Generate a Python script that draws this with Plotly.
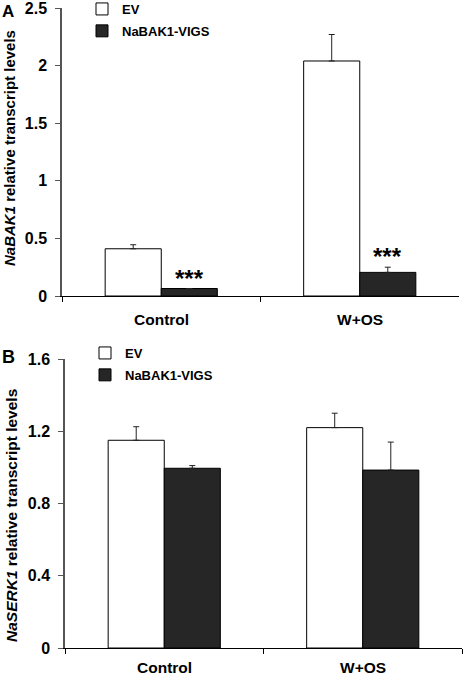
import plotly.graph_objects as go

categories = ["Control", "W+OS"]
series_names = ["EV", "NaBAK1-VIGS"]

# Panel A: NaBAK1 relative transcript levels
a_ev = [0.41, 2.04]
a_ev_err = [0.035, 0.23]
a_vigs = [0.065, 0.205]
a_vigs_err = [0.0, 0.045]
a_ticks = [0, 0.5, 1, 1.5, 2, 2.5]
a_ticktext = ["0", "0.5", "1", "1.5", "2", "2.5"]
a_sig = ["***", "***"]

# Panel B: NaSERK1 relative transcript levels
b_ev = [1.15, 1.22]
b_ev_err = [0.075, 0.08]
b_vigs = [0.995, 0.985]
b_vigs_err = [0.015, 0.155]
b_ticks = [0, 0.4, 0.8, 1.2, 1.6]
b_ticktext = ["0", "0.4", "0.8", "1.2", "1.6"]

W, H = 463, 678
FONT = "Arial, Liberation Sans, sans-serif"
fill_colors = ["#ffffff", "#262626"]

fig = go.Figure()

def add_pair(ev, ev_err, vg, vg_err, xa, ya, legend):
    for i, (vals, errs) in enumerate([(ev, ev_err), (vg, vg_err)]):
        fig.add_trace(go.Bar(
            x=categories, y=vals, name=series_names[i],
            xaxis=xa, yaxis=ya, legend=legend, legendgroup=legend + str(i),
            marker=dict(color=fill_colors[i], line=dict(color="#000000", width=1)),
            error_y=dict(type="data", array=errs, arrayminus=[0] * len(errs),
                         symmetric=False, color="#222222", thickness=1, width=3),
        ))

add_pair(a_ev, a_ev_err, a_vigs, a_vigs_err, "x", "y", "legend")
add_pair(b_ev, b_ev_err, b_vigs, b_vigs_err, "x2", "y2", "legend2")

def xaxis(domain, anchor):
    return dict(domain=domain, anchor=anchor, type="category",
                tickson="boundaries", ticks="outside", ticklen=5, tickcolor="#000",
                showticklabels=False,
                showline=True, linecolor="#000", linewidth=1,
                showgrid=False, zeroline=False, fixedrange=True, automargin=False)

def yaxis(domain, anchor, rng, tv, tt):
    return dict(domain=domain, anchor=anchor, range=rng, tickvals=tv, ticktext=tt,
                ticks="outside", ticklen=5, tickcolor="#555", ticklabelstandoff=5,
                ticklabeloverflow="allow",
                showline=True, linecolor="#555", linewidth=1.5,
                tickfont=dict(family=FONT, size=16, color="#000", weight="bold"),
                showgrid=False, zeroline=False, automargin=False)

legend_font = dict(family=FONT, size=13, color="#000", weight="bold")

fig.update_layout(
    width=W, height=H, margin=dict(l=0, r=0, t=0, b=0, autoexpand=False),
    paper_bgcolor="#ffffff", plot_bgcolor="#ffffff",
    barmode="group", bargap=0.435, bargroupgap=0,
    xaxis=xaxis([62 / W, 459 / W], "y"),
    yaxis=yaxis([1 - 296 / H, 1 - 8 / H], "x", [0, 2.5], a_ticks, a_ticktext),
    xaxis2=xaxis([65 / W, 462 / W], "y2"),
    yaxis2=yaxis([1 - 648 / H, 1 - 359 / H], "x2", [0, 1.6], b_ticks, b_ticktext),
    legend=dict(x=82 / W, y=1 + 6 / H, xanchor="left", yanchor="top",
                font=legend_font, bgcolor="rgba(0,0,0,0)",
                traceorder="grouped", tracegroupgap=2, borderwidth=0),
    legend2=dict(x=85 / W, y=1 - 338 / H, xanchor="left", yanchor="top",
                 font=legend_font, bgcolor="rgba(0,0,0,0)",
                 traceorder="grouped", tracegroupgap=2, borderwidth=0),
    showlegend=True,
)

ann = []
cat_font = dict(family=FONT, size=15.5, color="#000", weight="bold")
# category labels below each panel's x axis
for (xr, yr), ys in [(("x", "y"), -13), (("x2", "y2"), -9)]:
    for c in categories:
        ann.append(dict(x=c, y=0, xref=xr, yref=yr, text=c, showarrow=False,
                        xanchor="center", yanchor="top", yshift=ys, font=cat_font))
# significance stars above VIGS bars in panel A
for i, c in enumerate(categories):
    ann.append(dict(x=c, y=a_vigs[i] + a_vigs_err[i], xref="x", yref="y",
                    text=a_sig[i], showarrow=False, xshift=28, yanchor="bottom", yshift=-5,
                    font=dict(family=FONT, size=24, color="#000", weight="bold")))
# y-axis titles
ann.append(dict(x=10 / W, y=1 - 148 / H, xref="paper", yref="paper",
                text="<i>NaBAK1</i> relative transcript levels", textangle=-90,
                showarrow=False, xanchor="center", yanchor="middle",
                font=dict(family=FONT, size=15, color="#000", weight="bold")))
ann.append(dict(x=11 / W, y=1 - 516 / H, xref="paper", yref="paper",
                text="<i>NaSERK1</i> relative transcript levels", textangle=-90,
                showarrow=False, xanchor="center", yanchor="middle",
                font=dict(family=FONT, size=15.5, color="#000", weight="bold")))
# panel letters
ann.append(dict(x=0, y=1, xref="paper", yref="paper", text="A",
                showarrow=False, xanchor="left", yanchor="top",
                font=dict(family=FONT, size=17, color="#000", weight="bold")))
ann.append(dict(x=0, y=1 - 345 / H, xref="paper", yref="paper", text="B",
                showarrow=False, xanchor="left", yanchor="top",
                font=dict(family=FONT, size=18, color="#000", weight="bold")))
fig.update_layout(annotations=ann)

fig.write_html("out.html",
               config={"displayModeBar": False},
               post_script="document.body.style.margin='0';document.body.style.padding='0';")
